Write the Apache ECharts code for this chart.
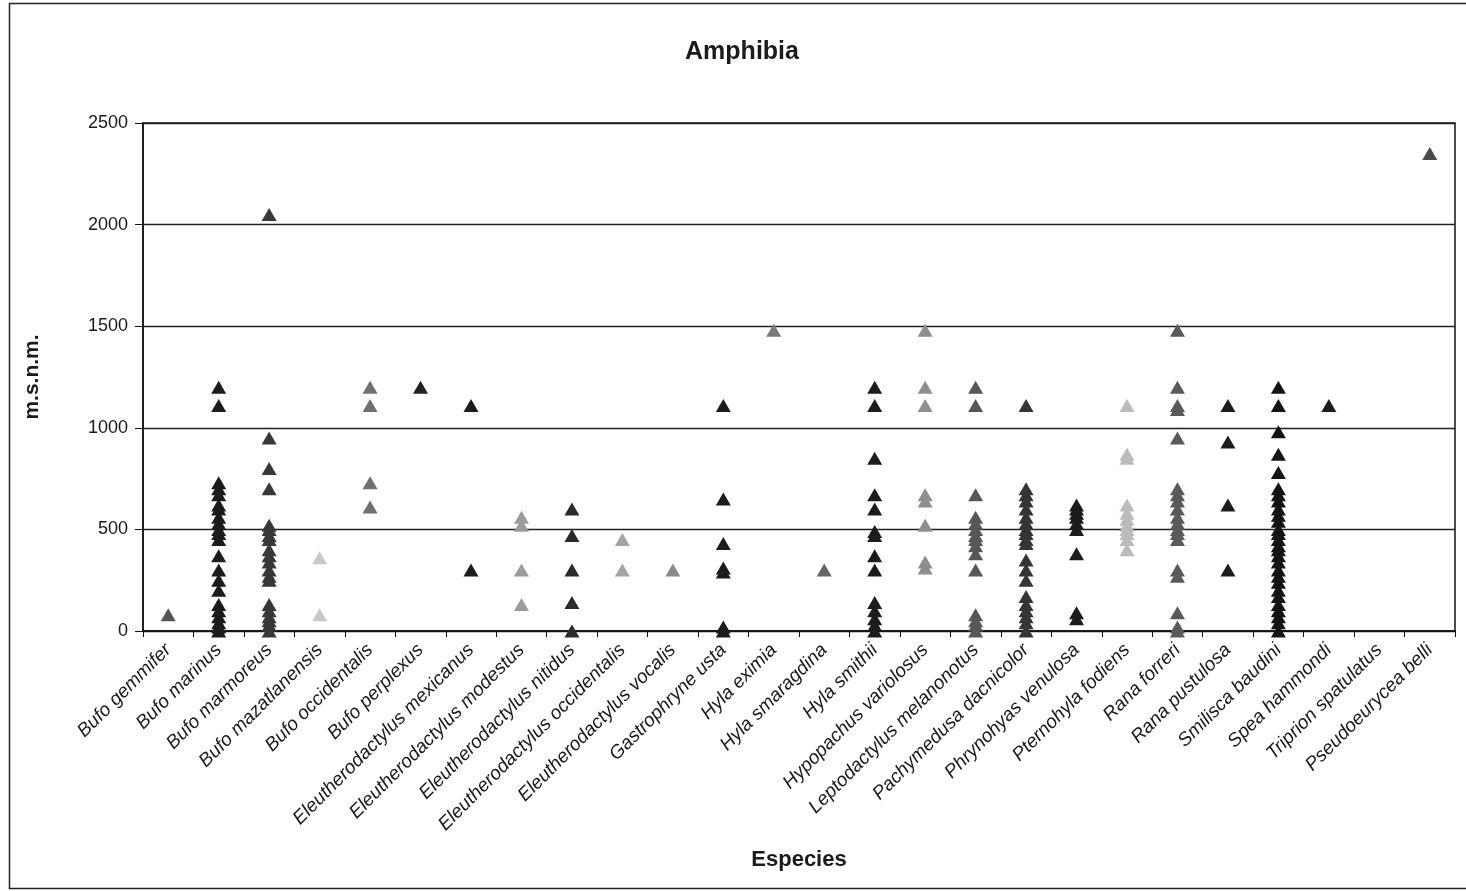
<!DOCTYPE html>
<html>
<head>
<meta charset="utf-8">
<title>Amphibia</title>
<script src="https://cdn.jsdelivr.net/npm/echarts@6/dist/echarts.min.js"></script>
<style>
    html, body { margin: 0; padding: 0; background: #fff; }
    #main { width: 1466px; height: 891px; }
</style>
</head>
<body>
<div id="main"></div>
<script>
// categorias (eje x)
var especies = ['Bufo gemmifer', 'Bufo marinus', 'Bufo marmoreus', 'Bufo mazatlanensis', 'Bufo occidentalis',
    'Bufo perplexus', 'Eleutherodactylus mexicanus', 'Eleutherodactylus modestus', 'Eleutherodactylus nitidus',
    'Eleutherodactylus occidentalis', 'Eleutherodactylus vocalis', 'Gastrophryne usta', 'Hyla eximia',
    'Hyla smaragdina', 'Hyla smithii', 'Hypopachus variolosus', 'Leptodactylus melanonotus',
    'Pachymedusa dacnicolor', 'Phrynohyas venulosa', 'Pternohyla fodiens', 'Rana forreri', 'Rana pustulosa',
    'Smilisca baudini', 'Spea hammondi', 'Triprion spatulatus', 'Pseudoeurycea belli'];

// altitudes (m.s.n.m.) por especie
var bufoGemmifer = [80];
var bufoMarinus = [1200, 1110, 730, 700, 670, 620, 600, 560, 530, 500, 480, 450, 370, 300, 250, 200, 130, 100, 70, 40, 20, 0];
var bufoMarmoreus = [2050, 950, 800, 700, 520, 500, 470, 450, 400, 370, 340, 300, 270, 250, 130, 100, 70, 50, 30, 0];
var bufoMazatlanensis = [360, 80];
var bufoOccidentalis = [1200, 1110, 730, 610];
var bufoPerplexus = [1200];
var eleuMexicanus = [1110, 300];
var eleuModestus = [560, 520, 300, 130];
var eleuNitidus = [600, 470, 300, 140, 0];
var eleuOccidentalis = [450, 300];
var eleuVocalis = [300];
var gastrophryneUsta = [1110, 650, 430, 310, 290, 20, 0];
var hylaEximia = [1480];
var hylaSmaragdina = [300];
var hylaSmithii = [1200, 1110, 850, 670, 600, 490, 470, 370, 300, 140, 100, 60, 30, 0];
var hypopachusVariolosus = [1480, 1200, 1110, 670, 640, 520, 340, 310];
var leptodactylusMelanonotus = [1200, 1110, 670, 560, 530, 500, 470, 450, 420, 380, 300, 80, 50, 30, 0];
var pachymedusaDacnicolor = [1110, 700, 670, 640, 600, 560, 530, 500, 480, 450, 430, 350, 300, 250, 170, 130, 100, 70, 40, 0];
var phrynohyasVenulosa = [620, 600, 580, 560, 530, 500, 380, 90, 60];
var pternohylaFodiens = [1110, 870, 850, 620, 580, 550, 520, 500, 480, 450, 400];
var ranaForreri = [1480, 1200, 1110, 1090, 950, 700, 670, 640, 600, 560, 530, 500, 480, 450, 300, 270, 90, 20, 0];
var ranaPustulosa = [1110, 930, 620, 300];
var smiliscaBaudini = [1200, 1110, 980, 870, 780, 700, 670, 640, 600, 570, 540, 500, 480, 450, 420, 400, 370, 340, 300, 270, 240, 200, 170, 130, 100, 70, 40, 0];
var speaHammondi = [1110];
var triprionSpatulatus = [];
var pseudoeuryceaBelli = [2350];

var yTicks = [0, 500, 1000, 1500, 2000, 2500];

var alturas = [bufoGemmifer, bufoMarinus, bufoMarmoreus, bufoMazatlanensis, bufoOccidentalis, bufoPerplexus,
    eleuMexicanus, eleuModestus, eleuNitidus, eleuOccidentalis, eleuVocalis, gastrophryneUsta, hylaEximia,
    hylaSmaragdina, hylaSmithii, hypopachusVariolosus, leptodactylusMelanonotus, pachymedusaDacnicolor,
    phrynohyasVenulosa, pternohylaFodiens, ranaForreri, ranaPustulosa, smiliscaBaudini, speaHammondi,
    triprionSpatulatus, pseudoeuryceaBelli];

// tonos de gris de cada serie (estilo)
var tonos = ['#555555', '#1c1c1c', '#383838', '#c8c8c8', '#707070', '#222222', '#1c1c1c', '#9c9c9c', '#2a2a2a',
    '#a4a4a4', '#8a8a8a', '#1c1c1c', '#7a7a7a', '#666666', '#1c1c1c', '#8e8e8e', '#575757', '#353535',
    '#1c1c1c', '#bbbbbb', '#5a5a5a', '#1c1c1c', '#141414', '#1c1c1c', '#1c1c1c', '#4a4a4a'];

var series = especies.map(function (nombre, i) {
    return {
        name: nombre,
        type: 'scatter',
        symbol: 'triangle',
        symbolSize: [15, 13],
        clip: false,
        itemStyle: { color: tonos[i], opacity: 1 },
        data: alturas[i].map(function (v) { return [nombre, v]; })
    };
});

var fuente = 'Arial, "Liberation Sans", sans-serif';
var myChart = echarts.init(document.getElementById('main'));
var option = {
    animation: false,
    backgroundColor: '#fff',
    textStyle: { fontFamily: fuente },
    title: {
        text: 'Amphibia',
        left: 737,
        textAlign: 'center',
        top: 35,
        textStyle: { fontSize: 25, fontWeight: 'bold', color: '#1a1a1a', fontFamily: fuente }
    },
    graphic: [{
        type: 'rect',
        shape: { x: 9.5, y: 3.5, width: 1470, height: 885 },
        style: { fill: 'none', stroke: '#222', lineWidth: 1.5 },
        silent: true
    }],
    grid: {
        left: 143, right: 11, top: 123, bottom: 260,
        show: true, borderColor: '#111', borderWidth: 1.5, backgroundColor: 'transparent'
    },
    xAxis: {
        type: 'category',
        data: especies,
        boundaryGap: true,
        name: 'Especies',
        nameLocation: 'middle',
        nameGap: 218,
        nameTextStyle: { fontSize: 22, fontWeight: 'bold', color: '#1a1a1a', fontFamily: fuente },
        axisLine: { lineStyle: { color: '#111', width: 1.5 } },
        axisTick: { show: true, inside: false, length: 6, lineStyle: { color: '#111' } },
        axisLabel: {
            interval: 0, rotate: 45, margin: 16,
            fontSize: 19, fontStyle: 'italic', color: '#1a1a1a', fontFamily: fuente
        },
        splitLine: { show: false }
    },
    yAxis: {
        type: 'value',
        min: yTicks[0],
        max: yTicks[yTicks.length - 1],
        interval: 500,
        name: 'm.s.n.m.',
        nameLocation: 'middle',
        nameRotate: 90,
        nameGap: 100,
        nameTextStyle: { fontSize: 21, fontWeight: 'bold', color: '#1a1a1a', fontFamily: fuente },
        axisLine: { show: true, lineStyle: { color: '#111', width: 1.5 } },
        axisTick: { show: true, inside: false, length: 8, lineStyle: { color: '#111' } },
        axisLabel: {
            fontSize: 18, color: '#1a1a1a', margin: 15, fontFamily: fuente,
            formatter: function (v) { return String(v); }
        },
        splitLine: { show: true, lineStyle: { color: '#222', width: 1.3 } }
    },
    series: series
};
myChart.setOption(option);
</script>
</body>
</html>
